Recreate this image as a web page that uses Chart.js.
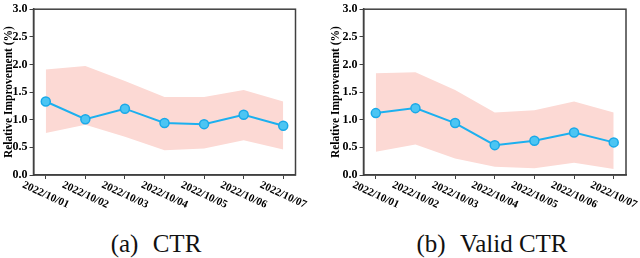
<!DOCTYPE html>
<html>
<head>
<meta charset="utf-8">
<script src="https://cdn.jsdelivr.net/npm/chart.js@4"></script>
<style>
  html, body { margin: 0; padding: 0; background: #fff; }
  #wrap { position: relative; width: 640px; height: 258px; overflow: hidden; }
  .panel { position: absolute; top: 0; width: 320px; height: 215px; }
  .caption {
    position: absolute; top: 230px; font-family: "Liberation Serif", "DejaVu Serif", Times, serif;
    font-size: 25px; line-height: 28px; color: #111; white-space: nowrap;
    transform: translateX(-50%);
  }
  .caption span { margin-left: 8px; }
</style>
</head>
<body>
<div id="wrap">
  <div class="panel" style="left:0"><canvas id="ctrChart" width="320" height="215"></canvas></div>
  <div class="panel" style="left:320px"><canvas id="validChart" width="320" height="215"></canvas></div>
  <div class="caption" style="left:156px">(a) <span>CTR</span></div>
  <div class="caption" style="left:492px">(b) <span>Valid CTR</span></div>
</div>
<script>
const dates = ["2022/10/01", "2022/10/02", "2022/10/03", "2022/10/04", "2022/10/05", "2022/10/06", "2022/10/07"];
const yTicks = [0, 0.5, 1.0, 1.5, 2.0, 2.5, 3.0];

const ctrMean = [1.33, 1.01, 1.20, 0.94, 0.92, 1.09, 0.89];
const ctrUpper = [1.91, 1.97, 1.70, 1.41, 1.41, 1.54, 1.33];
const ctrLower = [0.76, 0.91, 0.69, 0.45, 0.48, 0.63, 0.46];

const validMean = [1.12, 1.21, 0.94, 0.54, 0.62, 0.77, 0.59];
const validUpper = [1.84, 1.86, 1.54, 1.13, 1.17, 1.33, 1.13];
const validLower = [0.42, 0.55, 0.30, 0.15, 0.12, 0.22, 0.11];

const SERIF = '"Liberation Serif", "DejaVu Serif", Times, serif';
const AXIS = "#404040";

function toPoints(values) {
  return values.map((v, i) => ({ x: i, y: v }));
}

// frame + rotated date labels, centred under each tick like the original
const framePlugin = {
  id: "frame",
  afterDraw(chart) {
    const { ctx, chartArea: a, scales } = chart;
    ctx.save();
    ctx.strokeStyle = AXIS;
    ctx.lineWidth = 1.5;
    ctx.strokeRect(a.left, a.top, a.right - a.left, a.bottom - a.top);
    ctx.fillStyle = "#000";
    ctx.font = "bold 11px " + SERIF;
    ctx.textAlign = "center";
    ctx.textBaseline = "middle";
    dates.forEach((d, i) => {
      const x = scales.x.getPixelForValue(i);
      ctx.save();
      ctx.translate(x, a.bottom + 20);
      ctx.rotate((25 * Math.PI) / 180);
      ctx.fillText(d, 0, 0);
      ctx.restore();
    });
    ctx.restore();
  },
};

function buildChart(el, mean, upper, lower, box) {
  return new Chart(el.getContext("2d"), {
    type: "line",
    data: {
      datasets: [
        {
          data: toPoints(upper),
          borderWidth: 0,
          pointRadius: 0,
          backgroundColor: "#fcd9d4",
          fill: "+1",
          order: 2,
        },
        {
          data: toPoints(lower),
          borderWidth: 0,
          pointRadius: 0,
          backgroundColor: "#fcd9d4",
          fill: false,
          order: 2,
        },
        {
          data: toPoints(mean),
          borderColor: "#1cb0ef",
          borderWidth: 2,
          pointRadius: 4.5,
          pointBackgroundColor: "#4cc5f3",
          pointBorderColor: "#1aa9e8",
          pointBorderWidth: 1.5,
          fill: false,
          order: 1,
        },
      ],
    },
    options: {
      responsive: false,
      animation: false,
      layout: { padding: { left: box.padLeft, right: 320 - box.right, top: 5, bottom: 0 } },
      plugins: { legend: { display: false }, tooltip: { enabled: false } },
      scales: {
        x: {
          type: "linear",
          min: -0.31,
          max: 6.31,
          afterBuildTicks: (s) => { s.ticks = dates.map((_, i) => ({ value: i })); },
          afterFit: (s) => { s.height = 40; },
          ticks: { display: false },
          grid: { drawOnChartArea: false, drawTicks: true, tickLength: 4, color: AXIS, lineWidth: 1 },
          border: { color: AXIS, width: 1.5 },
        },
        y: {
          min: 0,
          max: 3,
          afterBuildTicks: (s) => { s.ticks = yTicks.map((v) => ({ value: v })); },
          afterFit: (s) => { s.width = box.left - box.padLeft; },
          ticks: {
            color: "#000",
            padding: 2,
            font: { family: SERIF, size: 12, weight: "bold" },
            callback: (v) => Number(v).toFixed(1),
          },
          grid: { drawOnChartArea: false, drawTicks: true, tickLength: 4, color: AXIS, lineWidth: 1 },
          border: { color: AXIS, width: 1.5 },
          title: {
            display: true,
            text: "Relative Improvement (%)",
            color: "#000",
            padding: 0,
            font: { family: SERIF, size: 11.5, weight: "bold", lineHeight: 1.1 },
          },
        },
      },
    },
    plugins: [framePlugin],
  });
}

buildChart(document.getElementById("ctrChart"), ctrMean, ctrUpper, ctrLower, { left: 33.5, right: 295.5, padLeft: 3 });
buildChart(document.getElementById("validChart"), validMean, validUpper, validLower, { left: 43.5, right: 306, padLeft: 10 });
</script>
</body>
</html>
